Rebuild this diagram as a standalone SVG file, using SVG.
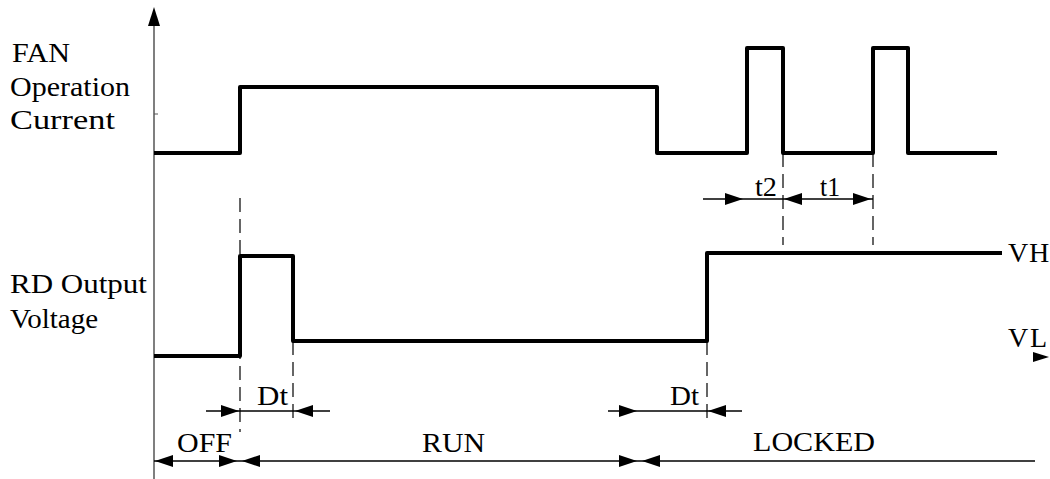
<svg xmlns="http://www.w3.org/2000/svg" width="1050" height="479" viewBox="0 0 1050 479">
<style>
.t{font-family:"Liberation Serif","Times New Roman",serif;font-size:28px;fill:#000}
.sig{fill:none;stroke:#000;stroke-width:4;stroke-linejoin:round}
.dim{fill:none;stroke:#000;stroke-width:1.5}
.dash{fill:none;stroke:#000;stroke-width:1.2;stroke-dasharray:14 7}
</style>
<defs>
<path id="ar" d="M0,0 L-18,-6 L-18,6 Z"/>
<path id="al" d="M0,0 L18,-6 L18,6 Z"/>
</defs>
<rect width="1050" height="479" fill="#fff"/>
<g id="axis">
<line x1="154" y1="22" x2="154" y2="479" stroke="#555" stroke-width="1.5"/>
<path d="M154,7 L148,26 L160,26 Z" fill="#000"/>
<line x1="154" y1="114" x2="158" y2="114" stroke="#555" stroke-width="1"/>
</g>
<g id="labels">
<text class="t" x="12" y="62" textLength="58" lengthAdjust="spacingAndGlyphs">FAN</text>
<text class="t" x="10" y="96" textLength="120" lengthAdjust="spacingAndGlyphs">Operation</text>
<text class="t" x="10" y="129" textLength="105" lengthAdjust="spacingAndGlyphs">Current</text>
<text class="t" x="10" y="293" textLength="137" lengthAdjust="spacingAndGlyphs">RD Output</text>
<text class="t" x="10" y="328" textLength="88" lengthAdjust="spacingAndGlyphs">Voltage</text>
</g>
<g id="fan-current">
<path class="sig" d="M154,153 H240 V87 H657 V153 H747 V48 H783 V153 H873 V48 H908 V153 H997"/>
</g>
<g id="rd-voltage">
<path class="sig" d="M154,356 H240 V256 H293 V341 H707 V253 H1002"/>
<text class="t" x="1008" y="262" font-size="30">V</text>
<text class="t" x="1029" y="262" font-size="18">H</text>
<text class="t" x="1008" y="347" font-size="30">V</text>
<text class="t" x="1030" y="347" font-size="18">L</text>
<path d="M1049,357 L1033,352 L1033,362 Z" fill="#000"/>
</g>
<g id="connectors">
<line class="dash" x1="240" y1="198" x2="240" y2="432"/>
<line class="dash" x1="293" y1="341" x2="293" y2="420"/>
<line class="dash" x1="707" y1="341" x2="707" y2="420"/>
<line class="dash" x1="783" y1="153" x2="783" y2="245"/>
<line class="dash" x1="873" y1="153" x2="873" y2="245"/>
<line class="dim" x1="703" y1="199" x2="873" y2="199"/>
<use href="#ar" x="743" y="199"/>
<use href="#al" x="784" y="199"/>
<use href="#ar" x="871" y="199"/>
<line class="dim" x1="206" y1="411" x2="330" y2="411"/>
<use href="#ar" x="239" y="411"/>
<use href="#al" x="295" y="411"/>
<line class="dim" x1="608" y1="411" x2="742" y2="411"/>
<use href="#ar" x="637" y="411"/>
<use href="#al" x="708" y="411"/>
<line class="dim" x1="154" y1="461" x2="1035" y2="461"/>
<use href="#al" x="155" y="461"/>
<use href="#ar" x="237" y="461"/>
<use href="#al" x="242" y="461"/>
<use href="#ar" x="637" y="461"/>
<use href="#al" x="642" y="461"/>
</g>
<g id="dim-labels">
<text class="t" x="755" y="196" textLength="22" lengthAdjust="spacingAndGlyphs">t2</text>
<text class="t" x="820" y="196" textLength="20" lengthAdjust="spacingAndGlyphs">t1</text>
<text class="t" x="257" y="405" textLength="31" lengthAdjust="spacingAndGlyphs">Dt</text>
<text class="t" x="670" y="405" textLength="29" lengthAdjust="spacingAndGlyphs">Dt</text>
<text class="t" x="177" y="452" textLength="55" lengthAdjust="spacingAndGlyphs">OFF</text>
<text class="t" x="422" y="452" textLength="63" lengthAdjust="spacingAndGlyphs">RUN</text>
<text class="t" x="753" y="451" textLength="122" lengthAdjust="spacingAndGlyphs">LOCKED</text>
</g>
</svg>
